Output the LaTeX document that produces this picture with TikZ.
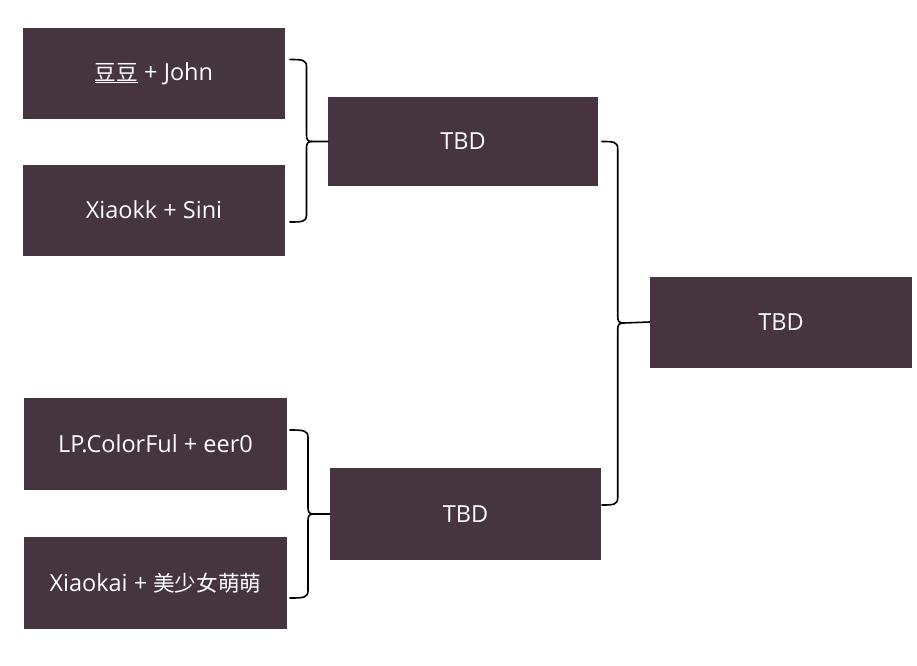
\documentclass[tikz,border=0pt]{standalone}
\usepackage{fontspec}
\setmainfont{Open Sans}
\newfontfamily\cjk[Scale=0.92]{Noto Sans CJK SC}
\definecolor{boxc}{HTML}{46343F}
\tikzset{
  box/.style={fill=boxc, draw=none, text=white, inner sep=0pt,
    minimum width=262pt, minimum height=91pt, font=\fontsize{23.5}{28}\selectfont},
  brace/.style={draw=black, line width=1.6pt, line cap=round, line join=round},
}
\begin{document}
\begin{tikzpicture}[x=1pt,y=-1pt]
\useasboundingbox (0,0) rectangle (917,665);
\node[box] (a) at (154,73.5) {\underline{\cjk 豆豆} + John};
\node[box] (b) at (154,210) {Xiaokk + Sini};
\node[box, minimum width=270pt, minimum height=89pt] (c) at (463,141.5) {TBD};
\node[box, minimum width=263pt, minimum height=92pt] (d) at (155.5,444) {LP.ColorFul + eer0};
\node[box, minimum width=263pt, minimum height=92pt] (e) at (155.5,583) {Xiaokai + {\cjk 美少女萌萌}};
\node[box, minimum width=271pt, minimum height=92pt] (f) at (465.5,514) {TBD};
\node[box] (g) at (781,322) {TBD};
% top-left brace
\coordinate (a1) at (290,59.5);
\coordinate (b1) at (290,222);
\coordinate (m1) at (312,141.5);
\draw[brace] (a1) .. controls (303,59.5) and (306.5,60) .. (306.5,67) -- (306.5,135)
  .. controls (306.5,140) and (308,141.5) .. (m1) -- (c.west);
\draw[brace] (b1) .. controls (303,222) and (306.5,221.5) .. (306.5,215) -- (306.5,148)
  .. controls (306.5,143) and (308,141.5) .. (m1);
% bottom-left brace
\coordinate (d1) at (290,430);
\coordinate (e1) at (290,598);
\coordinate (m2) at (313.5,514);
\draw[brace] (d1) .. controls (304,430) and (308,430.5) .. (308,437.5) -- (308,507.5)
  .. controls (308,512.5) and (309.5,514) .. (m2) -- (f.west);
\draw[brace] (e1) .. controls (304,598) and (308,597.5) .. (308,590.5) -- (308,520.5)
  .. controls (308,515.5) and (309.5,514) .. (m2);
% right brace
\coordinate (c1) at (602,141.5);
\coordinate (f1) at (602,505);
\coordinate (m3) at (623.5,323);
\draw[brace] (c1) .. controls (614,141.5) and (617.7,142) .. (617.7,149) -- (617.7,316.5)
  .. controls (617.7,321.5) and (619.2,323) .. (m3) -- (g.west);
\draw[brace] (f1) .. controls (614,505) and (617.7,504.5) .. (617.7,497.5) -- (617.7,329.5)
  .. controls (617.7,324.5) and (619.2,323) .. (m3);
\end{tikzpicture}
\end{document}
